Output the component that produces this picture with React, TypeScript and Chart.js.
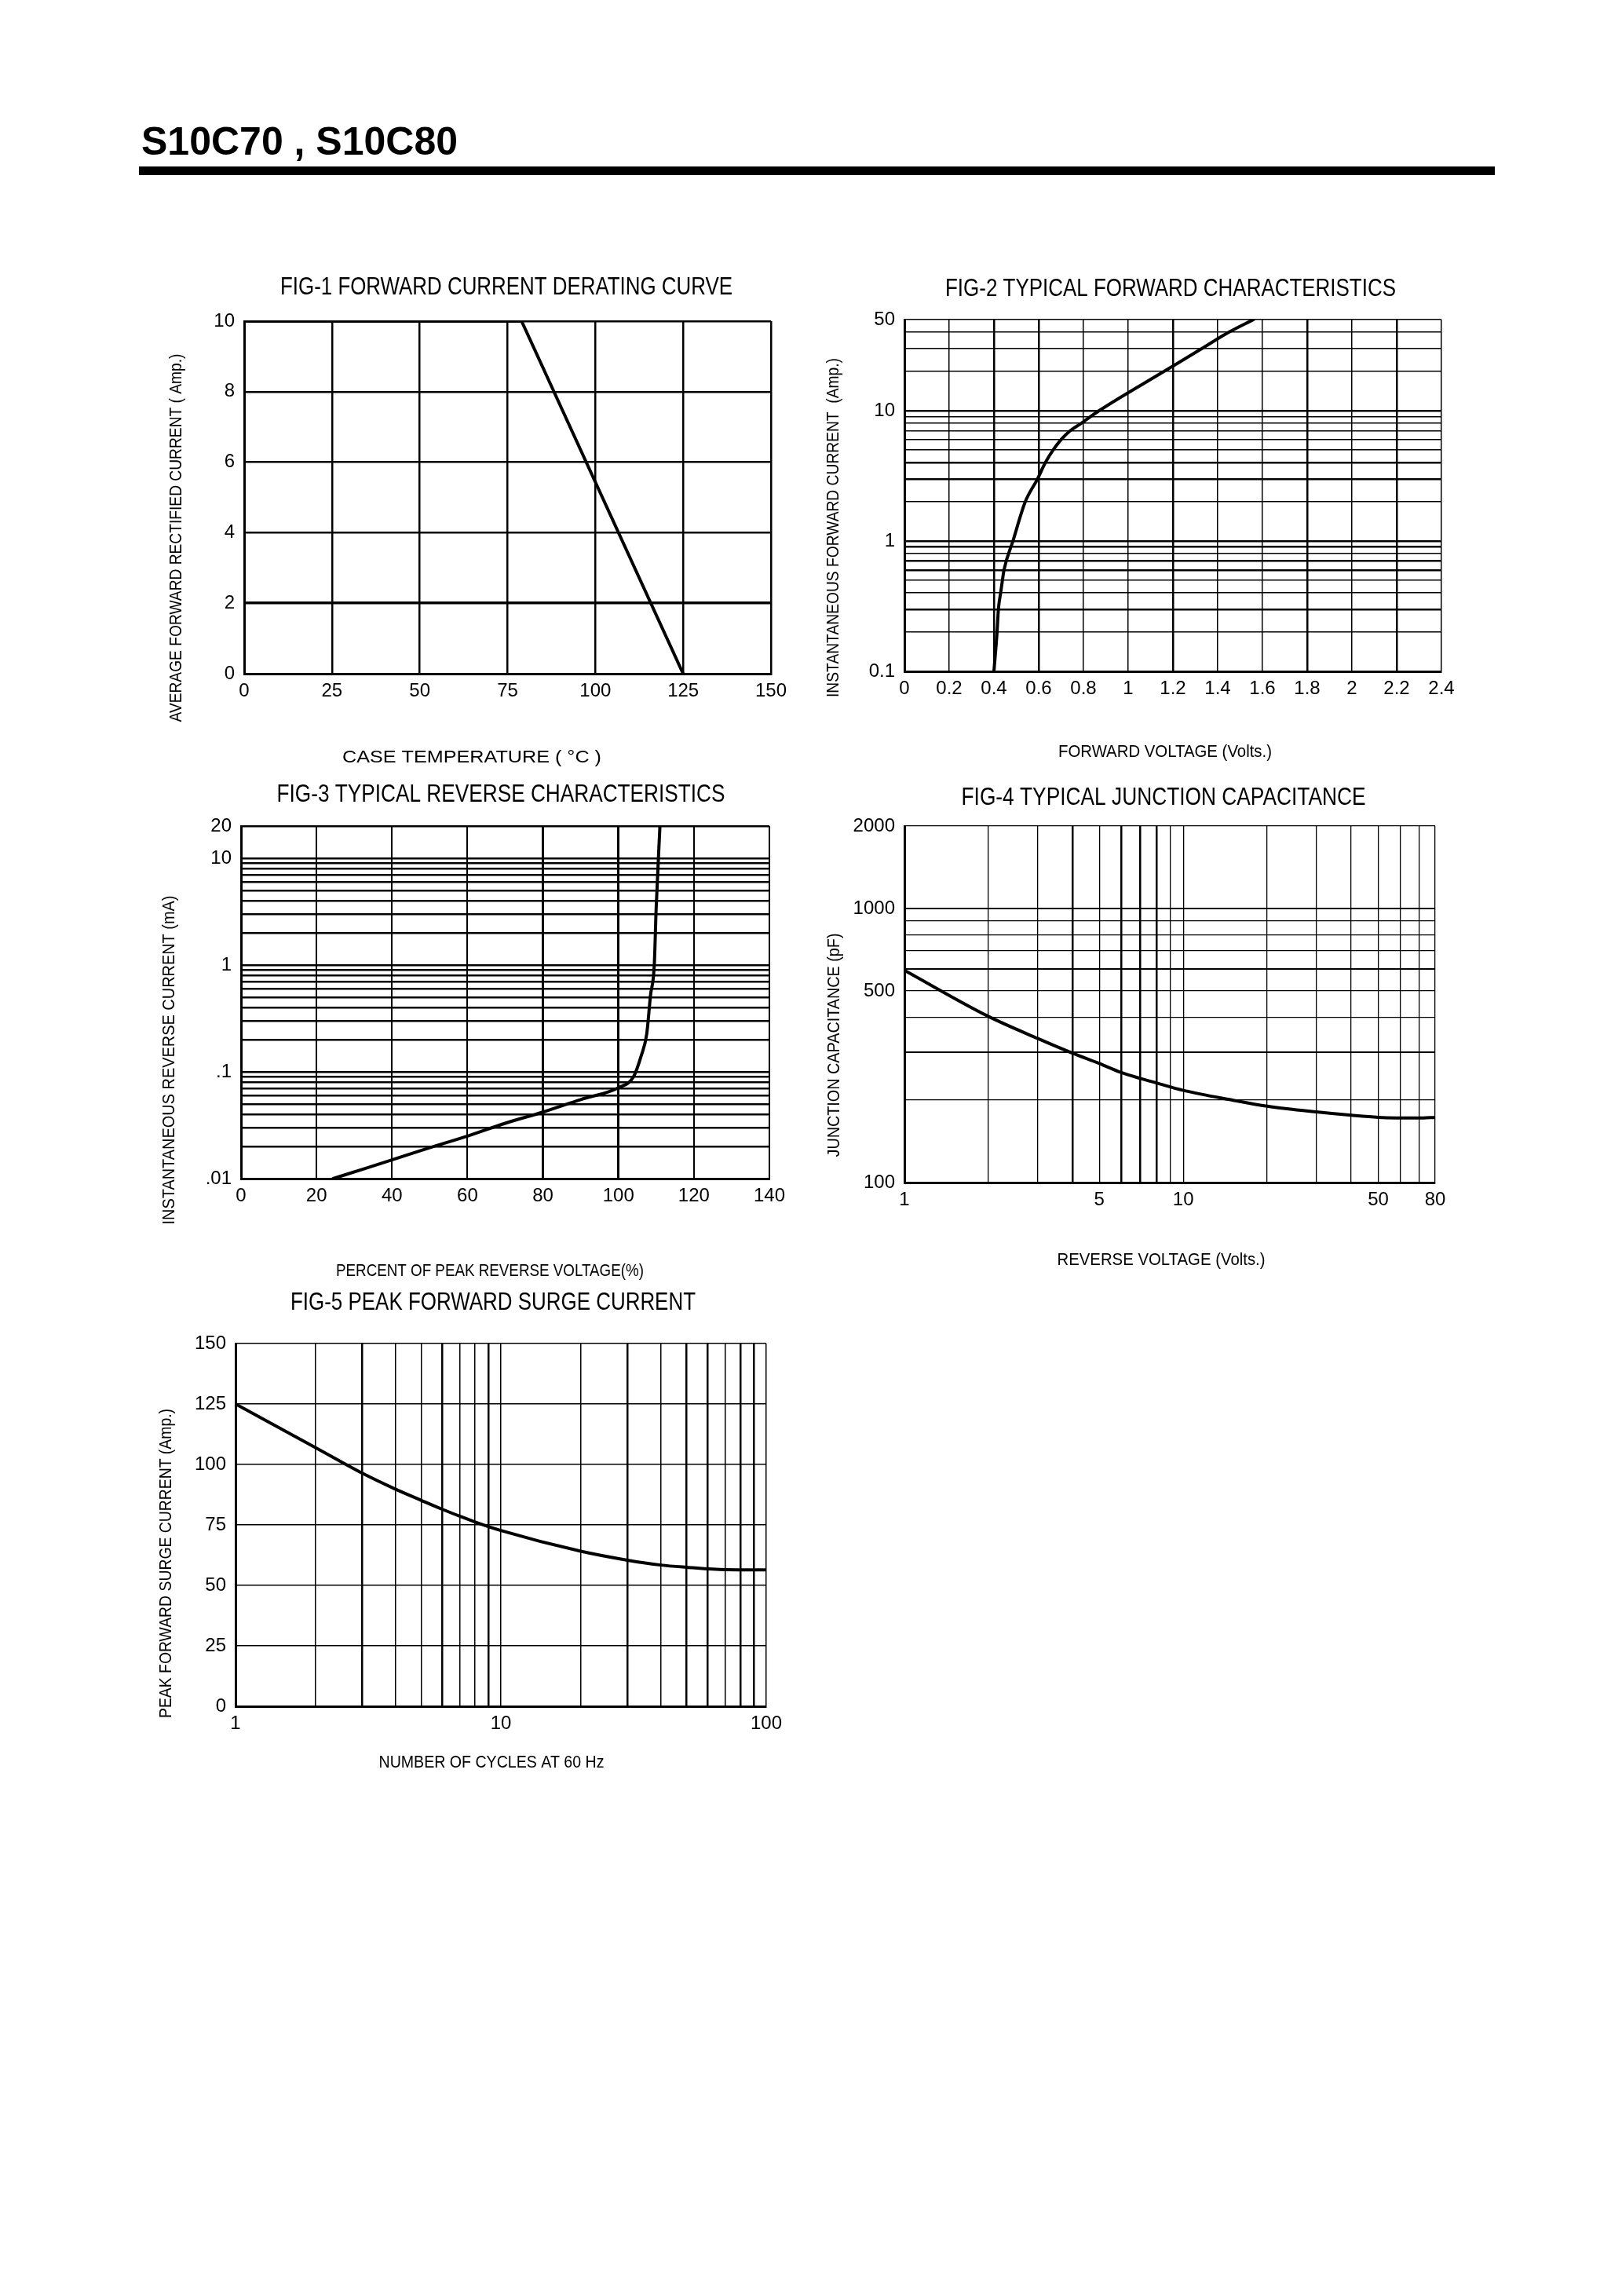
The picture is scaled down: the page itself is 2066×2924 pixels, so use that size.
import { useEffect, useRef } from 'react';
import { Chart, registerables } from 'chart.js';

Chart.register(...registerables);

const SANS = '"Liberation Sans", Arial, sans-serif';

// FIG-1 forward current derating curve
const fig1Temp = [0, 79, 125];
const fig1Current = [10, 10, 0];
const fig1GridX = [0, 25, 50, 75, 100, 125, 150];
const fig1TickX = ['0', '25', '50', '75', '100', '125', '150'];
const fig1GridY = [0, 2, 4, 6, 8, 10];
const fig1TickY = ['0', '2', '4', '6', '8', '10'];

// FIG-2 typical forward characteristics
const fig2Voltage = [0.4, 0.414, 0.42, 0.43, 0.438, 0.445, 0.485, 0.54, 0.595, 0.63, 0.665, 0.7, 0.74, 0.79, 0.87, 1.16, 1.33, 1.45, 1.56];
const fig2Current = [0.1, 0.2, 0.3, 0.4, 0.5, 0.6, 1, 2, 3, 4, 5, 6, 7, 8, 10, 20, 30, 40, 50];
const fig2GridX = [0, 0.2, 0.4, 0.6, 0.8, 1, 1.2, 1.4, 1.6, 1.8, 2, 2.2, 2.4];
const fig2TickX = ['0', '0.2', '0.4', '0.6', '0.8', '1', '1.2', '1.4', '1.6', '1.8', '2', '2.2', '2.4'];
const fig2HeavyX = [0.4, 0.6, 1.2, 1.8, 2.2];
const fig2GridY = [0.1, 0.2, 0.3, 0.4, 0.5, 0.6, 0.7, 0.8, 0.9, 1, 2, 3, 4, 5, 6, 7, 8, 9, 10, 20, 30, 40, 50];
const fig2LabelY = [0.1, 1, 10, 50];
const fig2TickY = ['0.1', '1', '10', '50'];
const fig2HeavyY = [0.3, 0.6, 0.7, 0.9, 1, 3, 4, 10];

// FIG-3 typical reverse characteristics
const fig3Percent = [24.4, 32.7, 40, 50, 60, 70, 80, 90, 100, 104, 106, 107.5, 108.5, 109.5, 110, 111];
const fig3Current = [0.01, 0.0124, 0.015, 0.0195, 0.025, 0.033, 0.042, 0.055, 0.071, 0.09, 0.14, 0.226, 0.52, 1, 3.4, 20];
const fig3GridX = [0, 20, 40, 60, 80, 100, 120, 140];
const fig3TickX = ['0', '20', '40', '60', '80', '100', '120', '140'];
const fig3HeavyX = [80, 100];
const fig3GridY = [0.01, 0.02, 0.03, 0.04, 0.05, 0.06, 0.07, 0.08, 0.09, 0.1, 0.2, 0.3, 0.4, 0.5, 0.6, 0.7, 0.8, 0.9, 1, 2, 3, 4, 5, 6, 7, 8, 9, 10, 20];
const fig3LabelY = [0.01, 0.1, 1, 10, 20];
const fig3TickY = ['.01', '.1', '1', '10', '20'];

// FIG-4 typical junction capacitance
const fig4Voltage = [1, 2, 3, 4, 5, 6, 7, 8, 10, 15, 20, 30, 40, 50, 70, 80];
const fig4Capacitance = [595, 404, 336, 297, 272, 252, 240, 231, 217, 200, 190, 181, 176, 173, 172, 173];
const fig4GridX = [1, 2, 3, 4, 5, 6, 7, 8, 9, 10, 20, 30, 40, 50, 60, 70, 80];
const fig4LabelX = [1, 5, 10, 50, 80];
const fig4TickX = ['1', '5', '10', '50', '80'];
const fig4HeavyX = [4, 6, 7, 8];
const fig4GridY = [100, 200, 300, 400, 500, 600, 700, 800, 900, 1000, 2000];
const fig4LabelY = [100, 500, 1000, 2000];
const fig4TickY = ['100', '500', '1000', '2000'];

// FIG-5 peak forward surge current
const fig5Cycles = [1, 2, 3, 4, 5, 6, 7, 8, 10, 20, 30, 40, 50, 70, 100];
const fig5Current = [125, 107, 96.4, 89.8, 85.2, 81.5, 78.6, 76.2, 72.7, 64.1, 60.4, 58.4, 57.5, 56.5, 56.4];
const fig5GridX = [1, 2, 3, 4, 5, 6, 7, 8, 9, 10, 20, 30, 40, 50, 60, 70, 80, 90, 100];
const fig5LabelX = [1, 10, 100];
const fig5TickX = ['1', '10', '100'];
const fig5HeavyX = [3, 6, 9, 30, 50, 60, 80, 90];
const fig5GridY = [0, 25, 50, 75, 100, 125, 150];
const fig5TickY = ['0', '25', '50', '75', '100', '125', '150'];

const PAD_L = 140;
const PAD_T = 90;
const PAD_R = 40;
const PAD_B = 130;

type AxisSpec = {
  type: 'linear' | 'logarithmic';
  min: number;
  max: number;
  grid: number[];
  labels: number[];
  texts: string[];
  heavy: number[];
  thin: number;
  thick: number;
};

// w = width the text takes in the sheet, the face is squeezed to it
type Txt = { text: string; x: number; y: number; size: number; w: number; vertical?: boolean };

type PanelSpec = {
  plot: [number, number, number, number];
  x: AxisSpec;
  y: AxisSpec;
  xs: number[];
  ys: number[];
  smooth: boolean;
  texts: Txt[];
};

const near = (a: number, b: number) => Math.abs(a - b) <= 1e-6 * Math.max(1e-9, Math.abs(b));
const has = (list: number[], v: number) => list.some((l) => near(v, l));

function scaleOptions(spec: AxisSpec, horizontal: boolean) {
  return {
    type: spec.type,
    min: spec.min,
    max: spec.max,
    afterBuildTicks: (scale: any) => {
      scale.ticks = spec.grid.map((value) => ({ value }));
    },
    afterFit: (scale: any) => {
      if (horizontal) scale.height = PAD_B;
      else scale.width = PAD_L;
    },
    ticks: {
      autoSkip: false,
      maxRotation: 0,
      minRotation: 0,
      padding: horizontal ? 8 : 12,
      color: '#000',
      font: { family: SANS, size: 24 },
      callback: (value: any) => {
        const i = spec.labels.findIndex((l) => near(Number(value), l));
        return i < 0 ? '' : spec.texts[i];
      },
    },
    grid: {
      drawTicks: false,
      color: '#000',
      lineWidth: (c: any) => (c.tick && has(spec.heavy, c.tick.value) ? spec.thick : spec.thin),
    },
    border: { color: '#000', width: 3 },
  };
}

function Panel({ spec }: { spec: PanelSpec }) {
  const ref = useRef<HTMLCanvasElement>(null);
  const [l, t, r, b] = spec.plot;
  const left = l - PAD_L;
  const top = t - PAD_T;
  const width = r - l + PAD_L + PAD_R;
  const height = b - t + PAD_T + PAD_B;

  useEffect(() => {
    if (!ref.current) return;

    const textPlugin = {
      id: 'sheetText',
      afterDraw(chart: Chart) {
        const ctx = chart.ctx;
        spec.texts.forEach((item) => {
          ctx.save();
          ctx.font = `${item.size}px ${SANS}`;
          ctx.fillStyle = '#000';
          ctx.textAlign = 'center';
          ctx.textBaseline = 'middle';
          const sx = item.w / ctx.measureText(item.text).width;
          ctx.translate(item.x - left, item.y - top);
          if (item.vertical) ctx.rotate(-Math.PI / 2);
          ctx.scale(sx, 1);
          ctx.fillText(item.text, 0, 0);
          ctx.restore();
        });
      },
    };

    const chart = new Chart(ref.current, {
      type: 'line',
      data: {
        datasets: [
          {
            data: spec.xs.map((x, i) => ({ x, y: spec.ys[i] })),
            borderColor: '#000',
            borderWidth: 4,
            pointRadius: 0,
            fill: false,
            tension: 0,
            cubicInterpolationMode: spec.smooth ? 'monotone' : 'default',
            borderJoinStyle: 'round',
            borderCapStyle: 'round',
          },
        ],
      },
      options: {
        responsive: false,
        animation: false,
        devicePixelRatio: 1,
        events: [],
        layout: { padding: { left: 0, top: PAD_T, right: PAD_R, bottom: 0 } },
        plugins: { legend: { display: false }, tooltip: { enabled: false } },
        scales: {
          x: scaleOptions(spec.x, true) as any,
          y: scaleOptions(spec.y, false) as any,
        },
      },
      plugins: [textPlugin],
    });

    return () => chart.destroy();
  }, [spec]);

  return (
    <canvas
      ref={ref}
      width={width}
      height={height}
      style={{ position: 'absolute', left, top, width, height }}
    />
  );
}

const panels: PanelSpec[] = [
  {
    plot: [311, 409, 982, 858],
    x: { type: 'linear', min: 0, max: 150, grid: fig1GridX, labels: fig1GridX, texts: fig1TickX, heavy: [], thin: 2.5, thick: 2.5 },
    y: { type: 'linear', min: 0, max: 10, grid: fig1GridY, labels: fig1GridY, texts: fig1TickY, heavy: [2], thin: 2.5, thick: 3.5 },
    xs: fig1Temp,
    ys: fig1Current,
    smooth: false,
    texts: [
      { text: 'FIG-1 FORWARD CURRENT DERATING CURVE', x: 645, y: 366, size: 32, w: 576 },
      { text: 'CASE TEMPERATURE ( °C )', x: 601, y: 965, size: 22, w: 330 },
      { text: 'AVERAGE FORWARD RECTIFIED CURRENT ( Amp.)', x: 225, y: 685, size: 22, w: 469, vertical: true },
    ],
  },
  {
    plot: [1152, 407, 1836, 855],
    x: { type: 'linear', min: 0, max: 2.4, grid: fig2GridX, labels: fig2GridX, texts: fig2TickX, heavy: fig2HeavyX, thin: 1.5, thick: 2.5 },
    y: { type: 'logarithmic', min: 0.1, max: 50, grid: fig2GridY, labels: fig2LabelY, texts: fig2TickY, heavy: fig2HeavyY, thin: 1.5, thick: 2.5 },
    xs: fig2Voltage,
    ys: fig2Current,
    smooth: true,
    texts: [
      { text: 'FIG-2 TYPICAL FORWARD CHARACTERISTICS', x: 1491, y: 368, size: 32, w: 574 },
      { text: 'FORWARD VOLTAGE (Volts.)', x: 1484, y: 958, size: 22, w: 272 },
      { text: 'INSTANTANEOUS FORWARD CURRENT  (Amp.)', x: 1062, y: 672, size: 22, w: 432, vertical: true },
    ],
  },
  {
    plot: [307, 1052, 980, 1501],
    x: { type: 'linear', min: 0, max: 140, grid: fig3GridX, labels: fig3GridX, texts: fig3TickX, heavy: fig3HeavyX, thin: 2, thick: 3 },
    y: { type: 'logarithmic', min: 0.01, max: 20, grid: fig3GridY, labels: fig3LabelY, texts: fig3TickY, heavy: fig3GridY, thin: 2.5, thick: 2.5 },
    xs: fig3Percent,
    ys: fig3Current,
    smooth: true,
    texts: [
      { text: 'FIG-3 TYPICAL REVERSE CHARACTERISTICS', x: 638, y: 1012, size: 32, w: 571 },
      { text: 'PERCENT OF PEAK REVERSE VOLTAGE(%)', x: 624, y: 1619, size: 22, w: 392 },
      { text: 'INSTANTANEOUS REVERSE CURRENT (mA)', x: 216, y: 1350, size: 22, w: 419, vertical: true },
    ],
  },
  {
    plot: [1152, 1052, 1828, 1506],
    x: { type: 'logarithmic', min: 1, max: 80, grid: fig4GridX, labels: fig4LabelX, texts: fig4TickX, heavy: fig4HeavyX, thin: 1.3, thick: 2.5 },
    y: { type: 'logarithmic', min: 100, max: 2000, grid: fig4GridY, labels: fig4LabelY, texts: fig4TickY, heavy: [300, 600, 1000], thin: 1.3, thick: 2 },
    xs: fig4Voltage,
    ys: fig4Capacitance,
    smooth: true,
    texts: [
      { text: 'FIG-4 TYPICAL JUNCTION CAPACITANCE', x: 1482, y: 1016, size: 32, w: 515 },
      { text: 'REVERSE VOLTAGE (Volts.)', x: 1479, y: 1605, size: 22, w: 265 },
      { text: 'JUNCTION CAPACITANCE (pF)', x: 1063, y: 1331, size: 22, w: 285, vertical: true },
    ],
  },
  {
    plot: [300, 1711, 976, 2173],
    x: { type: 'logarithmic', min: 1, max: 100, grid: fig5GridX, labels: fig5LabelX, texts: fig5TickX, heavy: fig5HeavyX, thin: 1.5, thick: 2.5 },
    y: { type: 'linear', min: 0, max: 150, grid: fig5GridY, labels: fig5GridY, texts: fig5TickY, heavy: [], thin: 1.5, thick: 1.5 },
    xs: fig5Cycles,
    ys: fig5Current,
    smooth: true,
    texts: [
      { text: 'FIG-5 PEAK FORWARD SURGE CURRENT', x: 628, y: 1659, size: 32, w: 516 },
      { text: 'NUMBER OF CYCLES AT 60 Hz', x: 626, y: 2245, size: 22, w: 287 },
      { text: 'PEAK FORWARD SURGE CURRENT (Amp.)', x: 212, y: 1991, size: 22, w: 394, vertical: true },
    ],
  },
];

export default function App() {
  return (
    <div style={{ position: 'absolute', left: 0, top: 0, width: 2066, height: 2924, background: '#fff' }}>
      <div
        style={{
          position: 'absolute',
          left: 180,
          top: 155,
          fontFamily: SANS,
          fontWeight: 'bold',
          fontSize: 50,
          lineHeight: '50px',
          whiteSpace: 'nowrap',
          color: '#000',
        }}
      >
        S10C70 , S10C80
      </div>
      <div style={{ position: 'absolute', left: 177, top: 212, width: 1727, height: 11, background: '#000' }} />
      {panels.map((p, i) => (
        <Panel key={i} spec={p} />
      ))}
    </div>
  );
}
